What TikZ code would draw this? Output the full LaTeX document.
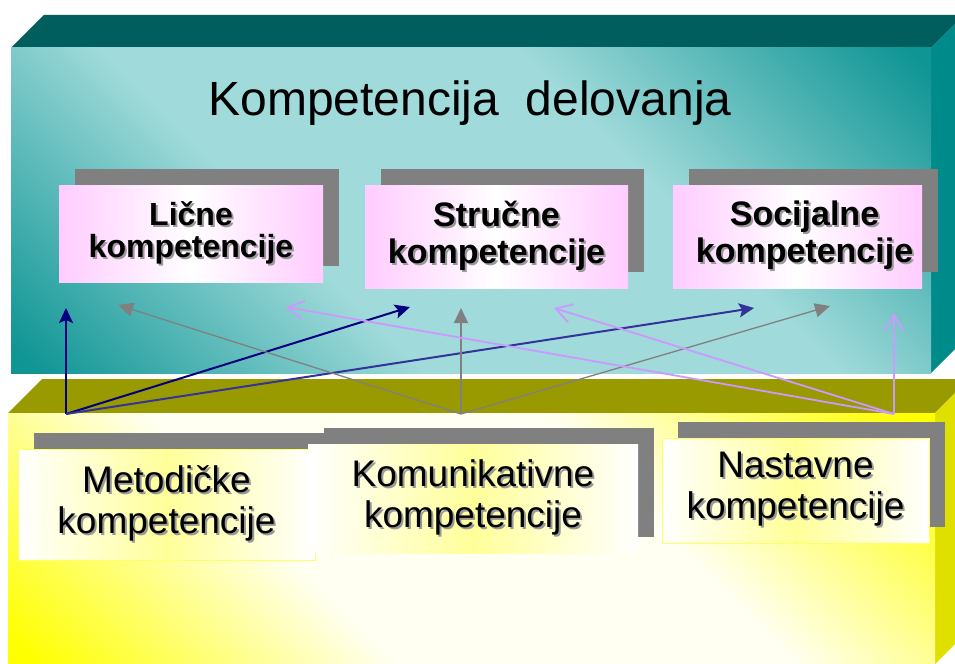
\documentclass[tikz,border=0pt]{standalone}
\usepackage{fontspec}
\setmainfont{Liberation Sans}
\usetikzlibrary{arrows.meta,shadows}

\definecolor{tealdark}{HTML}{109595}
\definecolor{teallight}{HTML}{A0DADA}
\definecolor{tealtop}{HTML}{005E5E}
\definecolor{tealside}{HTML}{008B8B}
\definecolor{olivetop}{HTML}{999900}
\definecolor{yellowside}{HTML}{E0E000}
\definecolor{ydark}{HTML}{FFFF00}
\definecolor{ylight}{HTML}{FFFFF2}
\definecolor{pinkbox}{HTML}{FFCCFF}
\definecolor{ybox}{HTML}{FFFF99}
\definecolor{yborder}{HTML}{FFFF66}
\definecolor{shadowgray}{HTML}{808080}
\definecolor{navyline}{HTML}{000080}
\definecolor{blueline}{HTML}{333399}
\definecolor{grayline}{HTML}{808080}
\definecolor{lavline}{HTML}{CC99FF}

\pgfdeclareverticalshading{tealdiag}{100bp}{color(0bp)=(tealdark); color(16bp)=(tealdark); color(38bp)=(teallight); color(62bp)=(teallight); color(84bp)=(tealdark); color(100bp)=(tealdark)}
\pgfdeclareverticalshading{yellowdiag}{100bp}{color(0bp)=(ydark); color(16bp)=(ydark); color(38bp)=(ylight); color(62bp)=(ylight); color(84bp)=(ydark); color(100bp)=(ydark)}

\newcommand\tsh[1]{\leavevmode\rlap{\kern2bp\raisebox{-2bp}{\textcolor{black!40}{#1}}}#1}

\tikzset{
  upbox/.style={anchor=north west, inner sep=0pt, outer sep=0pt, align=center,
    shade, left color=pinkbox, right color=pinkbox, middle color=white,
    general shadow={fill=shadowgray, shadow xshift=16bp, shadow yshift=16bp}},
  lowbox/.style={anchor=north west, inner sep=0pt, outer sep=0pt, align=center,
    shade, left color=white, right color=white, middle color=ybox,
    font=\fontsize{37bp}{41bp}\selectfont,
    general shadow={fill=shadowgray, shadow xshift=16bp, shadow yshift=16bp}},
  navyarr/.style={draw=navyline, line width=2bp, -{Stealth[length=15bp,width=14bp,inset=3bp]}},
  bluearr/.style={draw=blueline, line width=2bp, -{Stealth[length=15bp,width=14bp,inset=3bp]}},
  grayarr/.style={draw=grayline, line width=1.3bp, -{Triangle[length=15bp,width=14bp]}},
  lavarr/.style={draw=lavline, line width=1.8bp, -{Straight Barb[length=16bp,width=19bp]}}
}

\begin{document}
\begin{tikzpicture}[x=1bp,y=-1bp]
\useasboundingbox (0,0) rectangle (955,664);
\clip (0,0) rectangle (955,664);

% upper 3D box
\fill[tealtop] (11,48) -- (44,15) -- (964,15) -- (931,48) -- cycle;
\fill[tealside] (931,48) -- (964,15) -- (964,340) -- (931,373) -- cycle;
\shade[shading=tealdiag, shading angle=-45] (11,48) rectangle (931,373);

% lower 3D box
\fill[olivetop] (8,413) -- (42,379) -- (969,379) -- (935,413) -- cycle;
\fill[yellowside] (935,413) -- (969,379) -- (969,630) -- (935,664) -- cycle;
\shade[shading=yellowdiag, shading angle=-45] (8,413) rectangle (935,664);

% title
\node[font=\fontsize{48bp}{56bp}\selectfont, anchor=base, inner sep=0pt] (title) at (470,116) {Kompetencija\ \ delovanja};

% upper boxes
\node[upbox, minimum width=264bp, minimum height=97bp,
  font=\bfseries\fontsize{32bp}{32bp}\selectfont] (licne) at (59,185)
  {\tsh{Lične}\\\tsh{kompetencije}};
\node[upbox, minimum width=263bp, minimum height=103bp,
  font=\bfseries\fontsize{34bp}{37bp}\selectfont] (strucne) at (365,185)
  {\tsh{Stručne}\\\tsh{kompetencije}};
\node[upbox, minimum width=249bp, minimum height=103bp,
  font=\bfseries\fontsize{34bp}{37bp}\selectfont] (socijalne) at (673,185)
  {\hspace*{14bp}\tsh{Socijalne}\\\hspace*{14bp}\tsh{kompetencije}};

% lower boxes
\node[lowbox, draw=yborder, line width=1bp, minimum width=297bp, minimum height=111bp,
  general shadow={fill=shadowgray, shadow xshift=16bp, shadow yshift=15bp}] (metodicke) at (18,449)
  {\tsh{Metodičke}\\\tsh{kompetencije}};
\node[lowbox, minimum width=330bp, minimum height=109bp] (komunikativne) at (308,444)
  {\tsh{Komunikativne}\\\tsh{kompetencije}};
\node[lowbox, draw=yborder, line width=1bp, minimum width=267bp, minimum height=105bp] (nastavne) at (662,438)
  {\tsh{Nastavne}\\\tsh{kompetencije}};

% arrow end points
\coordinate (p1) at (66,414);
\coordinate (p2) at (461,414);
\coordinate (p3) at (894,414);
\coordinate (t1) at (66,308);
\coordinate (t2) at (410,307);
\coordinate (t3) at (754,308);
\coordinate (g1) at (118,305);
\coordinate (g2) at (461,308);
\coordinate (g3) at (830,306);
\coordinate (l1) at (286,307);
\coordinate (l2) at (554,308);
\coordinate (l3) at (894,313);

\draw[navyarr] (p1) -- (t1);
\draw[navyarr] (p1) -- (t2);
\draw[bluearr] (p1) -- (t3);
\draw[grayarr] (p2) -- (g1);
\draw[grayarr] (p2) -- (g2);
\draw[grayarr] (p2) -- (g3);
\draw[lavarr] (p3) -- (l1);
\draw[lavarr] (p3) -- (l2);
\draw[lavarr] (p3) -- (l3);
\end{tikzpicture}
\end{document}
